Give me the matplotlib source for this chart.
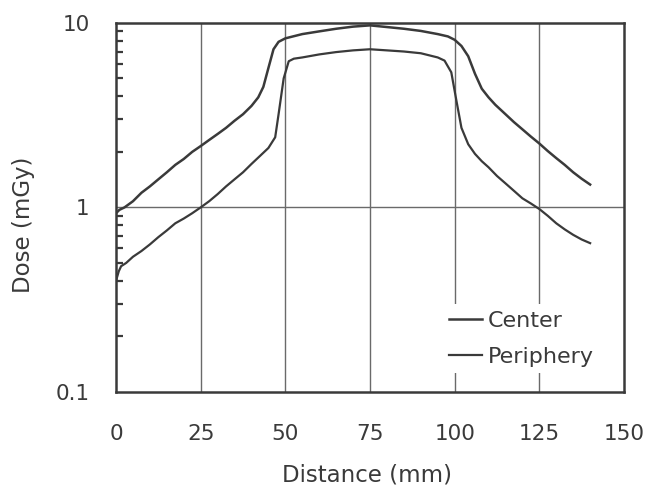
import matplotlib
matplotlib.use("Agg")
import matplotlib.pyplot as plt
from matplotlib.ticker import LogLocator, NullFormatter, FixedLocator, FixedFormatter

# Dose profiles along the phantom (distance in mm, dose in mGy)
center_x = [0, 1, 2.5, 5, 7.5, 10, 12.5, 15, 17.5, 20, 22.5, 25, 27.5, 30, 32.5,
            35, 37.5, 40, 42, 43.5, 45, 46.5, 48, 50, 55, 60, 65, 70, 75, 80,
            85, 90, 95, 98, 100, 102, 104, 106, 108, 110, 112, 115, 117.5, 120,
            122.5, 125, 127.5, 130, 132.5, 135, 137.5, 140]
center_dose = [0.93, 0.97, 1.0, 1.08, 1.2, 1.3, 1.42, 1.55, 1.7, 1.83, 2.0, 2.15,
               2.32, 2.5, 2.7, 2.95, 3.2, 3.55, 3.95, 4.5, 5.7, 7.2, 7.9, 8.25,
               8.7, 9.0, 9.3, 9.55, 9.7, 9.5, 9.3, 9.05, 8.7, 8.45, 8.1, 7.5,
               6.6, 5.3, 4.4, 3.95, 3.6, 3.2, 2.9, 2.65, 2.42, 2.22, 2.02, 1.85,
               1.7, 1.55, 1.43, 1.33]

periph_x = [0, 0.8, 1.5, 3, 5, 7.5, 10, 12.5, 15, 17.5, 20, 22.5, 25, 27.5, 30,
            32.5, 35, 37.5, 40, 42.5, 45, 47, 48, 49.5, 51, 52.5, 55, 60, 65,
            70, 75, 80, 85, 90, 95, 97, 99, 100.5, 102, 104, 106, 108, 110,
            112.5, 115, 117.5, 120, 122.5, 125, 127.5, 130, 132.5, 135, 137.5, 140]
periph_dose = [0.40, 0.45, 0.48, 0.50, 0.54, 0.58, 0.63, 0.69, 0.75, 0.82, 0.87,
               0.93, 1.0, 1.08, 1.18, 1.3, 1.42, 1.55, 1.72, 1.9, 2.1, 2.4, 3.2,
               5.0, 6.2, 6.4, 6.5, 6.75, 6.95, 7.1, 7.2, 7.1, 7.0, 6.85, 6.5,
               6.25, 5.4, 3.8, 2.7, 2.2, 1.95, 1.78, 1.65, 1.48, 1.35, 1.23,
               1.12, 1.05, 0.98, 0.9, 0.82, 0.76, 0.71, 0.67, 0.64]

x_ticks = [0, 25, 50, 75, 100, 125, 150]
y_ticks = [0.1, 1, 10]
y_tick_labels = ["0.1", "1", "10"]

ink = "#3a3a3a"
grid_col = "#6a6a6a"

fig = plt.figure(figsize=(6.5, 4.88), dpi=100)
ax = fig.add_axes([0.1785, 0.197, 0.7815, 0.756])

ax.set_xlim(0, 150)
ax.set_yscale("log")
ax.set_ylim(0.1, 10)

# grid: vertical lines at the inner x ticks, one horizontal line at 1 mGy
for gx in x_ticks[1:-1]:
    ax.axvline(gx, color=grid_col, lw=1.0, zorder=1)
ax.axhline(1, color=grid_col, lw=1.0, zorder=1)

lc, = ax.plot(center_x, center_dose, color=ink, lw=1.8, zorder=3)
lp, = ax.plot(periph_x, periph_dose, color=ink, lw=1.6, zorder=3)

ax.xaxis.set_major_locator(FixedLocator(x_ticks))
ax.yaxis.set_major_locator(FixedLocator(y_ticks))
ax.yaxis.set_major_formatter(FixedFormatter(y_tick_labels))
ax.yaxis.set_minor_locator(LogLocator(base=10, subs=range(2, 10)))
ax.yaxis.set_minor_formatter(NullFormatter())

ax.tick_params(axis="x", length=0, pad=23, labelsize=15.5, labelcolor=ink)
ax.tick_params(axis="y", which="major", length=0, pad=19, labelsize=15.5, labelcolor=ink)
ax.tick_params(axis="y", which="minor", direction="in", length=5, width=1.6, color=ink)

for s in ax.spines.values():
    s.set_color(ink)
    s.set_linewidth(1.8)

ax.set_xlabel("Distance (mm)", fontsize=16.5, color=ink)
ax.set_ylabel("Dose (mGy)", fontsize=16.5, color=ink)
ax.xaxis.set_label_coords(0.494, -0.195)
ax.yaxis.set_label_coords(-0.16, 0.453)

leg = ax.legend([lc, lp], ["Center", "Periphery"], loc="upper left",
                bbox_to_anchor=(0.643, 0.237), frameon=True, fancybox=False,
                facecolor="white", edgecolor="none", framealpha=1.0,
                fontsize=16, handlelength=1.45, handletextpad=0.3,
                labelspacing=0.7, borderpad=0.3, borderaxespad=0)
for t in leg.get_texts():
    t.set_color(ink)
leg.set_zorder(5)

fig.savefig("out.png", dpi=100, facecolor="white")
